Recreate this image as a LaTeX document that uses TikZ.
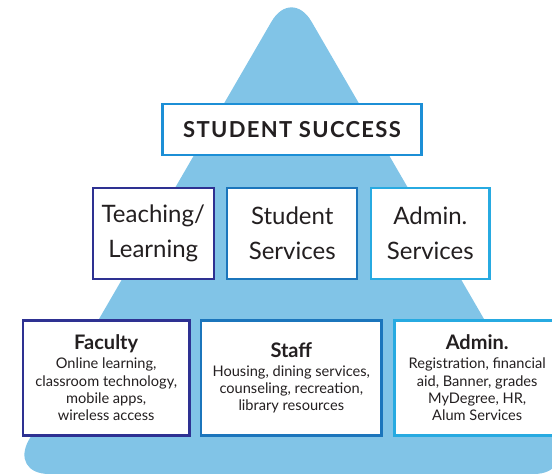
\documentclass[tikz,border=0pt]{standalone}
\usepackage{fontspec}
\setmainfont{Lato}
\usepackage{xcolor}
\usepackage{tikz}

\definecolor{pyramid}{RGB}{129,196,231}
\definecolor{navy}{RGB}{46,49,146}
\definecolor{midblue}{RGB}{27,117,188}
\definecolor{skyblue}{RGB}{39,170,225}
\definecolor{topblue}{RGB}{28,143,214}
\definecolor{ink}{RGB}{35,31,32}

\newcommand{\tierhead}[1]{{\bfseries\fontsize{20}{20}\selectfont #1}\\[2pt]}

\begin{document}
\begin{tikzpicture}[x=1pt, y=-1pt,
    tier/.style={draw, fill=white, line width=2.4pt, inner sep=0pt, align=center, text=ink},
    toptier/.style={tier, minimum width=259pt, minimum height=51pt,
        font=\bfseries\fontsize{22}{26}\selectfont\addfontfeatures{LetterSpace=6}},
    midtier/.style={tier, minimum height=91pt, font=\fontsize{24}{35}\selectfont},
    lowtier/.style={tier, minimum height=115pt, font=\fontsize{14.6}{17.3}\selectfont}]
    \useasboundingbox (0,0) rectangle (552,474);
    \clip (0,0) rectangle (552,474);

    % the pyramid behind the boxes
    \coordinate (apex) at (291.5,-12.9);
    \coordinate (baseL) at (9.1,474);
    \coordinate (baseR) at (573.9,474);
    \coordinate (baseM) at (291.5,474);
    \fill[pyramid, rounded corners=40pt] (baseM) -- (baseR) -- (apex) -- (baseL) -- cycle;

    % top
    \node[toptier, draw=topblue] (success) at (292,129.2) {STUDENT SUCCESS};

    % middle row
    \node[midtier, draw=navy, minimum width=121pt] (teach) at (153.3,233.3) {Teaching/\\Learning};
    \node[midtier, draw=midblue, minimum width=130pt] (stusvc) at (292.2,233.3) {Student\\Services};
    \node[midtier, draw=skyblue, minimum width=118.3pt] (admsvc) at (430.3,233.3) {Admin.\\Services};

    % bottom row
    \node[lowtier, draw=navy, minimum width=166.6pt] (faculty) at (106.2,377.8)
        {\tierhead{Faculty}Online learning,\\classroom technology,\\mobile apps,\\wireless access};
    \node[lowtier, draw=midblue, minimum width=180.3pt] (staff) at (291.3,377.8)
        {\tierhead{Staff}Housing, dining services,\\counseling, recreation,\\library resources};
    \node[lowtier, draw=skyblue, minimum width=165.3pt] (admin) at (477.2,377.8)
        {\tierhead{Admin.}Registration, financial\\aid, Banner, grades\\MyDegree, HR,\\Alum Services};
\end{tikzpicture}
\end{document}
